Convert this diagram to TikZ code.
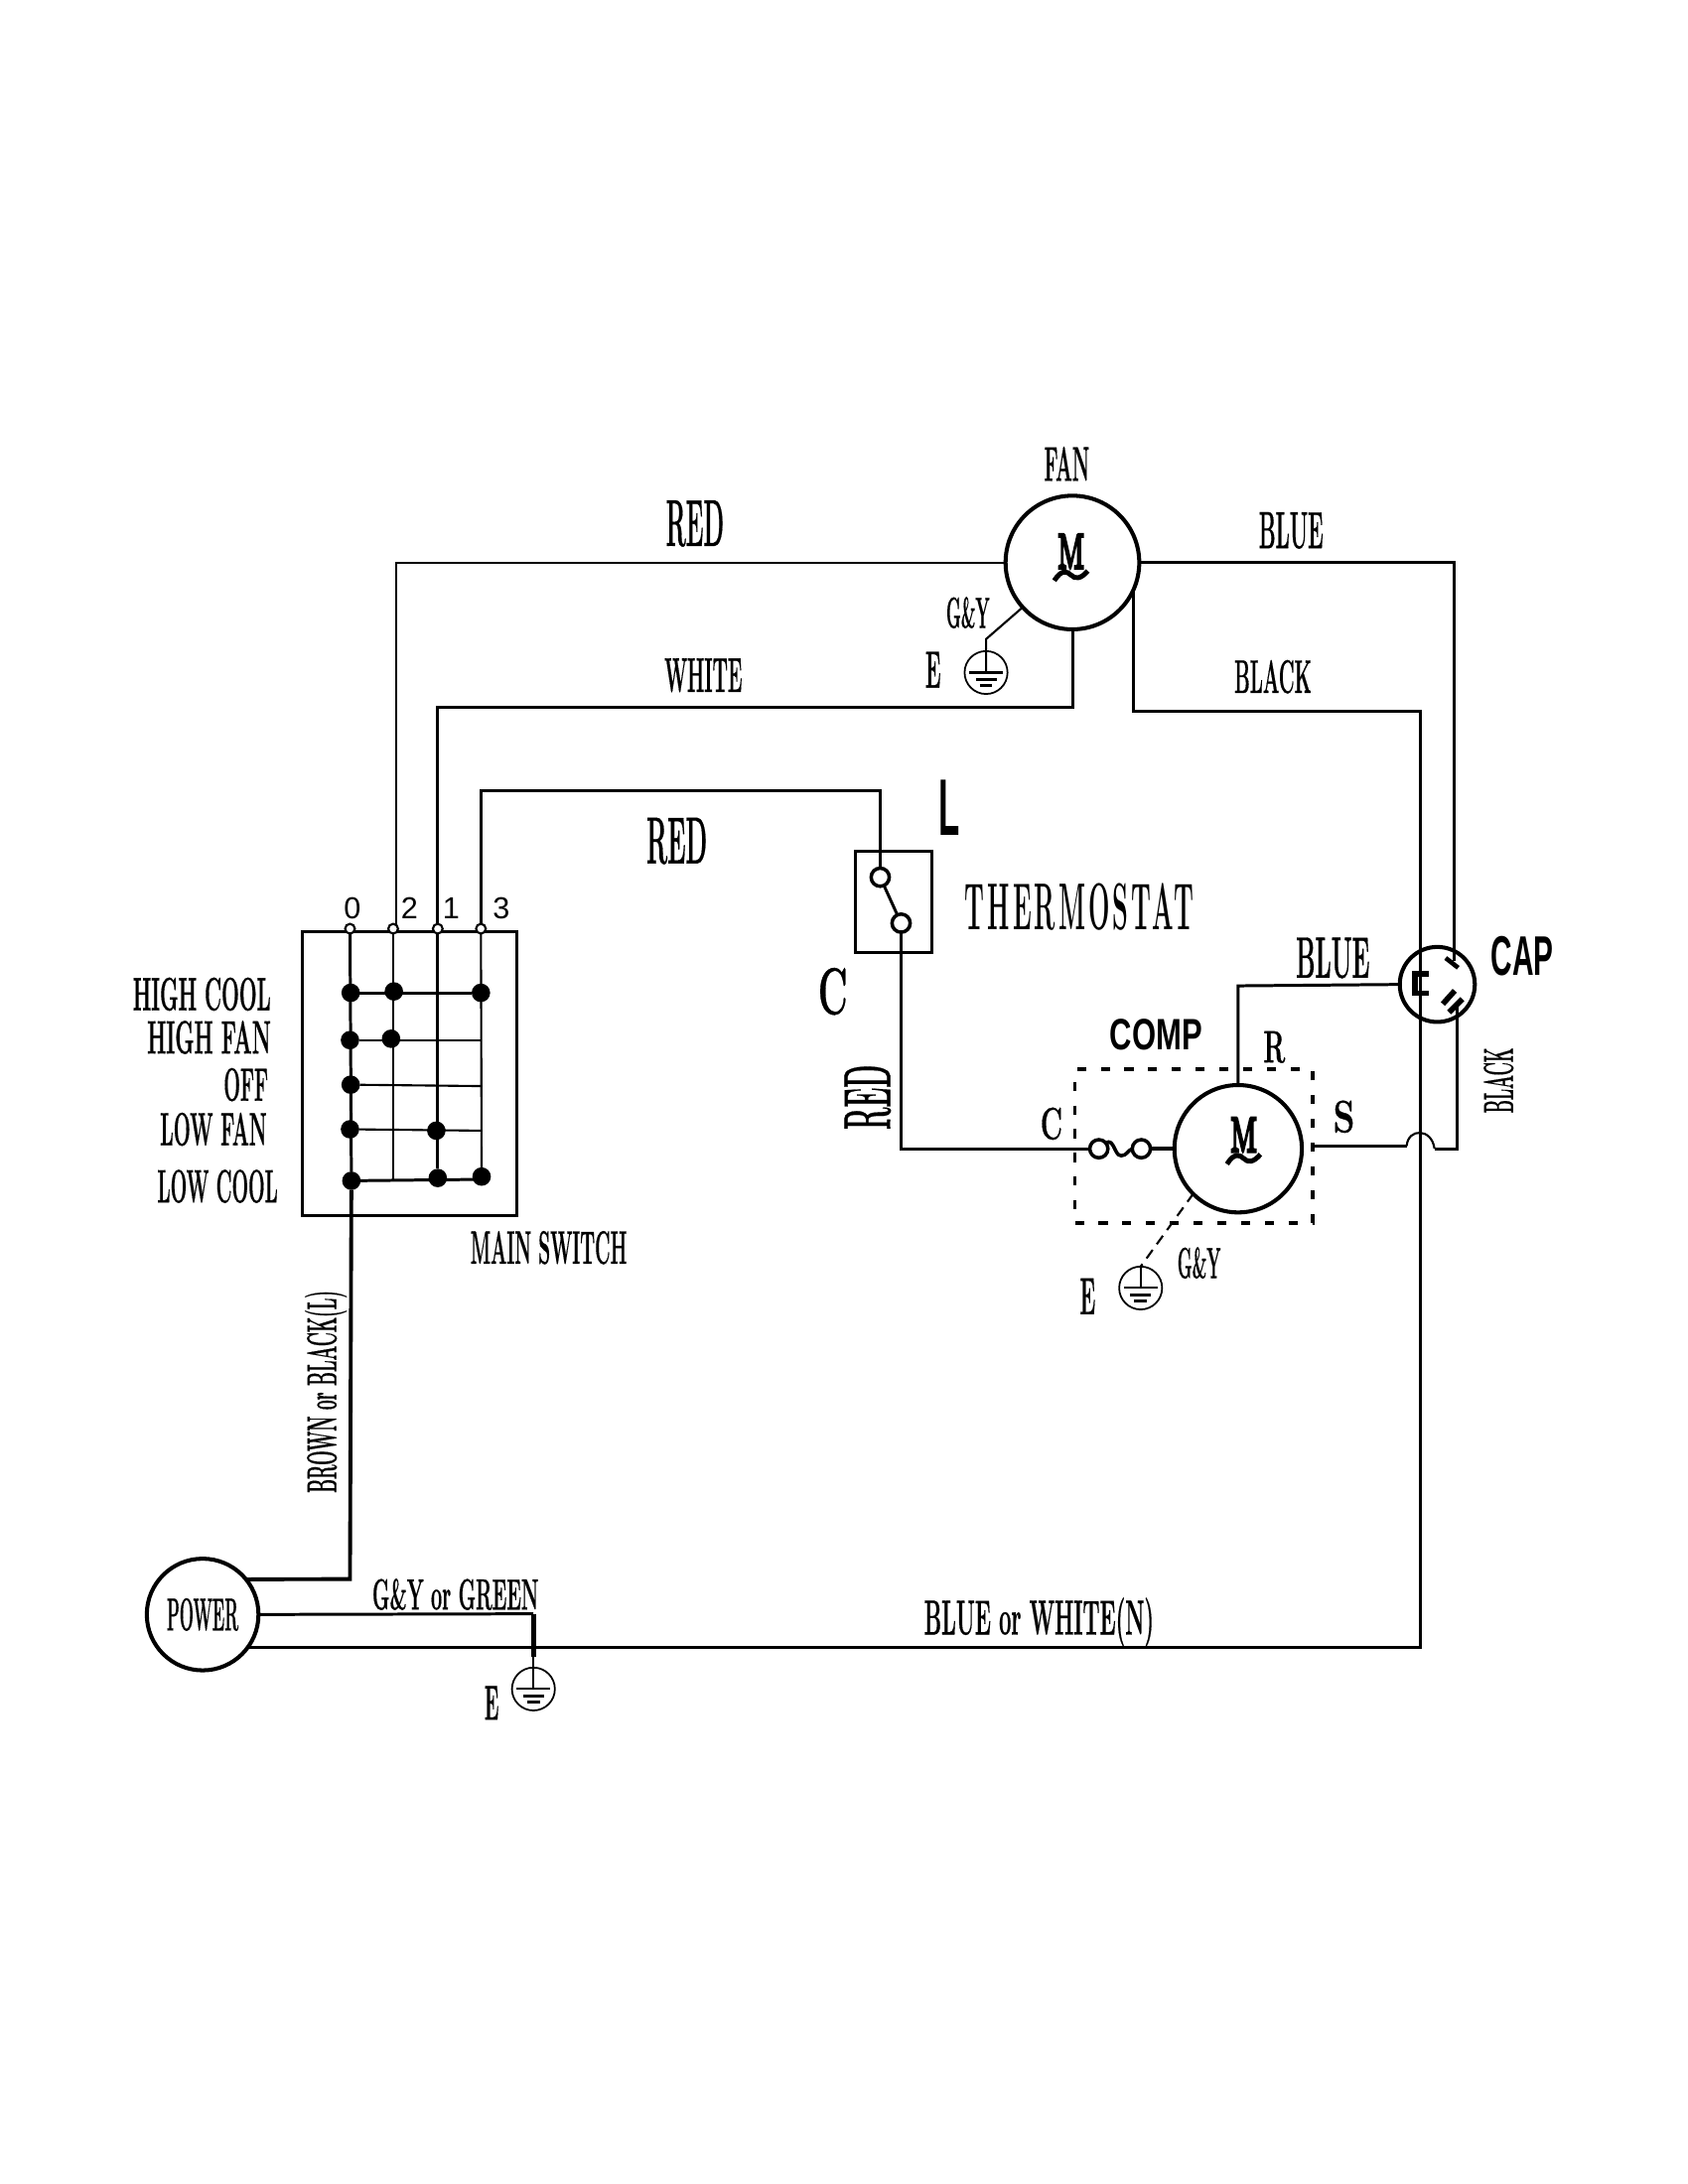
\documentclass[tikz,border=0pt]{standalone}
\usepackage{amsmath,amssymb}
\usepackage{fontspec}
\usepackage{tikz}
\setmainfont{Latin Modern Roman}[BoldFeatures={FakeBold=.7}]
\newfontfamily\sansfont{Liberation Sans}
\newfontfamily\trackfont[LetterSpace=12]{Latin Modern Roman}
\newfontfamily\heavyfont[FakeBold=7]{Latin Modern Roman}
\newcommand{\cnd}[2][.4]{\scalebox{#1}[1]{#2}}
\tikzset{
  wire/.style={line width=.85pt},
  thinwire/.style={line width=.6pt},
  heavywire/.style={line width=1.1pt},
  motor/.style={draw,circle,line width=1.15pt,inner sep=0,outer sep=0},
  earthring/.style={draw,circle,line width=.5pt,inner sep=0,outer sep=0,minimum size=12.3pt},
  contact/.style={draw,circle,fill=white,line width=1pt,inner sep=0,outer sep=0,minimum size=5.2pt},
  terminal/.style={draw,circle,fill=white,line width=.6pt,inner sep=0,outer sep=0,minimum size=2.8pt},
  swdot/.style={fill=black,circle,inner sep=0,outer sep=0,minimum size=5.3pt},
  serifbold/.style={font=\fontsize{#1}{#1}\selectfont\bfseries,inner sep=0},
  sansbold/.style={font=\sansfont\bfseries\fontsize{#1}{#1}\selectfont,inner sep=0},
  sanslabel/.style={font=\sansfont\fontsize{8.7}{9}\selectfont,inner sep=0}
}
\newcommand{\earth}[2]{%
  \node[earthring] (#1) at (#2) {};
  \draw[line width=.5pt] (#1.north) -- (#1.center);
  \draw[line width=.6pt] ([xshift=-4.8pt]#1.center) -- ([xshift=4.8pt]#1.center);
  \draw[line width=.8pt] ([xshift=-3pt,yshift=-2pt]#1.center) -- ([xshift=3pt,yshift=-2pt]#1.center);
  \draw[line width=.8pt] ([xshift=-1.8pt,yshift=-3.7pt]#1.center) -- ([xshift=1.8pt,yshift=-3.7pt]#1.center);
}
\newcommand{\motorglyph}[2]{%
  \node[font=\heavyfont\fontsize{14}{14}\selectfont,inner sep=0] (#1) at (#2) {\cnd[.6]{M}};
  \draw[line width=1.4pt] ([shift={(-12,21)}]#1.center) .. controls ([shift={(-7,13)}]#1.center) and ([shift={(-3,14)}]#1.center) .. ([shift={(0,17)}]#1.center) .. controls ([shift={(3,20)}]#1.center) and ([shift={(7,20)}]#1.center) .. ([shift={(12,14)}]#1.center);
}
\begin{document}
\begin{tikzpicture}[x=0.014026cm,y=-0.014026cm]
  \useasboundingbox (-1,0) rectangle (1211,1568.5);
  % motors and boxes
  \node[motor,minimum size=38.3pt] (fan) at (769,404) {};
  \motorglyph{fanm}{768,396}
  \node[motor,minimum size=36.5pt] (comp) at (888,825) {};
  \motorglyph{compm}{892,815}
  \node[motor,minimum size=32pt] (power) at (144.5,1159.5) {\cnd[.36]{\fontsize{13.2}{14}\selectfont\bfseries POWER}};
  \node[motor,minimum size=21.5pt] (cap) at (1031,707) {};
  \node[draw,line width=.85pt,inner sep=0,outer sep=0,minimum width=61.5pt,minimum height=81.5pt] (swbox) at (293.3,771) {};
  \node[draw,line width=.85pt,inner sep=0,outer sep=0,minimum width=22pt,minimum height=29pt] (thermo) at (640.5,648) {};
  \node[draw,line width=1.1pt,dash pattern=on 2.6pt off 4.2pt,inner sep=0,outer sep=0,minimum width=68pt,minimum height=44pt] (compbox) at (856,823) {};
  % switch terminals and wire columns
  \foreach \name/\x in {zero/250.3,two/281.3,one/313.3,three/344.3}
    \node[terminal] (\name) at (\x,667) {};
  \node[sanslabel] (lzero) at (252,652) {0};
  \node[sanslabel] (ltwo) at (293,652) {2};
  \node[sanslabel] (lone) at (323,652) {1};
  \node[sanslabel] (lthree) at (359,652) {3};
  % contacts of the switch
  \foreach \name/\x/\y in {aa/250.8/713,ab/281.8/712,ac/344.3/713,ba/250.3/747,bb/279.8/746,ca/250.8/779,da/250.3/811,db/312.3/812,ea/251.3/848,eb/313.3/846,ec/344.8/845}
    \node[swdot] (\name) at (\x,\y) {};
  \coordinate (bend) at (344.3,747);
  \coordinate (cend) at (344.3,780);
  \coordinate (dend) at (344.3,812);
  \coordinate (twofoot) at (281.3,847);
  \coordinate (efoot) at (344.3,847);
  \draw[wire] (zero) -- (ea);
  \draw[thinwire] (two) -- (twofoot);
  \draw[wire] (one) -- (eb);
  \draw[thinwire] (three) -- (ec);
  \draw[wire] (aa) -- (ac);
  \draw[thinwire] (ba) -- (bend);
  \draw[thinwire] (ca) -- (cend);
  \draw[thinwire] (da) -- (dend);
  \draw[wire] (ea) -- (efoot);
  % fan wiring
  \coordinate (twotop) at (283.5,664);
  \coordinate (redup) at (283.5,404);
  \coordinate (whitecorner) at (313.3,508);
  \coordinate (bluecorner) at (1043,404);
  \coordinate (bluedrop) at (1043,690);
  \coordinate (blackcorner) at (1019,511);
  \coordinate (neutralcorner) at (1019,1183);
  \draw[thinwire] (twotop) -- (redup) -- (fan);
  \draw[wire] (fan.south) |- (whitecorner) -- (one);
  \draw[wire] (fan.east) -- (bluecorner) -- (bluedrop);
  \draw[wire] (fan.-24) |- (blackcorner) -- (neutralcorner) -- (power.-37 |- neutralcorner);
  \coordinate (fanbend) at (707,459);
  \earth{fanearth}{707,483}
  \draw[thinwire] (fan.222) -- (fanbend) -- (fanearth.center);
  % thermostat
  \node[contact] (upper) at (631,630) {};
  \node[contact] (lower) at (646,663) {};
  \coordinate (roomline) at (344.3,568);
  \coordinate (roomcorner) at (631,568);
  \draw[wire] (three) -- (roomline) -- (roomcorner) -- (upper);
  \draw[wire] (upper) -- (lower);
  \coordinate (fusecorner) at (646,825);
  \node[contact,minimum size=5.2pt] (fusea) at (788,825) {};
  \node[contact,minimum size=5.2pt] (fuseb) at (818.5,825) {};
  \draw[wire] (lower) -- (fusecorner) -- (fusea);
  \draw[line width=1pt] (fusea.40) .. controls (799,817) and (799,830) .. (804,830) .. controls (808,830) and (809,826) .. (fuseb.west);
  \draw[heavywire] (fuseb) -- (comp.west);
  % compressor wiring
  \coordinate (runcorner) at (888,708);
  \draw[wire] (comp.north) -- (runcorner) -- (cap.west);
  \coordinate (startend) at (941,823);
  \coordinate (hopleft) at (1009,823);
  \coordinate (hopright) at (1029,825);
  \coordinate (blackfoot) at (1045.5,825);
  \coordinate (blacktop) at (1045.5,722);
  \draw[wire] (startend) -- (hopleft);
  \draw[thinwire] (hopleft) .. controls (1010,810) and (1027,810) .. (hopright);
  \draw[wire] (hopright) -- (blackfoot) -- (blacktop);
  \coordinate (compgnd) at (856,857);
  \earth{compearth}{818,925}
  \draw[thinwire,dash pattern=on 3pt off 2pt] (compgnd) -- (compearth.north);
  % capacitor terminals
  \draw[line width=1.5pt] (1025,699.5) -- (1015,699.5) -- (1015,713.5) -- (1025,713.5);
  \draw[line width=1.3pt] (1037,688) -- (1046,695);
  \draw[line width=1.6pt] (1035,721) -- (1043.5,711.5);
  \draw[line width=1.6pt] (1039.5,727) -- (1049,717.5);
  % power wiring
  \coordinate (browncorner) at (250.3,1134);
  \draw[heavywire] (ea) -- (browncorner) -- (power.39);
  \earth{powerearth}{382,1213}
  \coordinate (greencorner) at (382,1159);
  \coordinate (greenfoot) at (382,1190);
  \draw[wire] (power.east) -- (greencorner);
  \draw[line width=1.5pt] (greencorner) -- (greenfoot);
  \draw[thinwire] (greenfoot) -- (powerearth.north);
  % labels
  \node[serifbold=14] (tfan) at (765,333) {\cnd{FAN}};
  \node[serifbold=19] (tred) at (498,376) {\cnd[.358]{RED}};
  \node[serifbold=15] (tblue) at (926,381) {\cnd{BLUE}};
  \node[serifbold=12.5] (tgy) at (694,440) {\cnd[.38]{G\&Y}};
  \node[serifbold=15] (te) at (669,481) {\cnd{E}};
  \node[serifbold=14] (twhite) at (504,485) {\cnd{WHITE}};
  \node[serifbold=13.5] (tblack) at (913,486) {\cnd[.41]{BLACK}};
  \node[serifbold=19] (tredb) at (485,604) {\cnd[.374]{RED}};
  \node[sansbold=23] (tl) at (681,580) {\cnd[.43]{L}};
  \node[font=\trackfont\bfseries\fontsize{19}{19}\selectfont,inner sep=0] (tthermo) at (774,651) {\cnd[.38]{THERMOSTAT}};
  \node[serifbold=19] (tc) at (597,712) {\cnd[.55]{C}};
  \node[serifbold=16.7] (tblueb) at (956,688) {\cnd[.41]{BLUE}};
  \node[sansbold=16] (tcap) at (1092,687) {\cnd[.53]{CAP}};
  \node[sansbold=12.6] (tcomp) at (829,743) {\cnd[.7]{COMP}};
  \node[serifbold=13] (tr) at (914,752) {\cnd[.57]{R}};
  \node[serifbold=13] (tcc) at (754,807) {\cnd[.6]{C}};
  \node[serifbold=13] (ts) at (964,802) {\cnd[.76]{S}};
  \node[serifbold=19,rotate=90] (tredc) at (622,788) {\cnd{RED}};
  \node[serifbold=12,rotate=90] (tblackb) at (1075,776) {\cnd[.39]{BLACK}};
  \node[serifbold=15] (teb) at (780,931) {\cnd{E}};
  \node[serifbold=12.5] (tgyb) at (860,907) {\cnd[.38]{G\&Y}};
  \node[serifbold=13.4] (tmain) at (393,896) {\cnd[.404]{MAIN SWITCH}};
  \node[serifbold=13.4,anchor=east] (thc) at (194,714) {\cnd[.446]{HIGH COOL}};
  \node[serifbold=13.4,anchor=east] (thf) at (194,745) {\cnd[.46]{HIGH FAN}};
  \node[serifbold=13.4,anchor=east] (toff) at (192,779) {\cnd[.42]{OFF}};
  \node[serifbold=13.4,anchor=east] (tlf) at (191,811) {\cnd[.427]{LOW FAN}};
  \node[serifbold=13.4,anchor=east] (tlc) at (199,852) {\cnd[.415]{LOW COOL}};
  \node[serifbold=12,rotate=90] (tbrown) at (233,999.5) {\cnd[.41]{BROWN or BLACK(L)}};
  \node[serifbold=12.5] (tgreen) at (326,1145) {\cnd[.45]{G\&Y or GREEN}};
  \node[serifbold=14] (tneutral) at (745,1165) {\cnd[.444]{BLUE or WHITE(N)}};
  \node[serifbold=14] (tec) at (352,1223) {\cnd{E}};
\end{tikzpicture}
\end{document}
